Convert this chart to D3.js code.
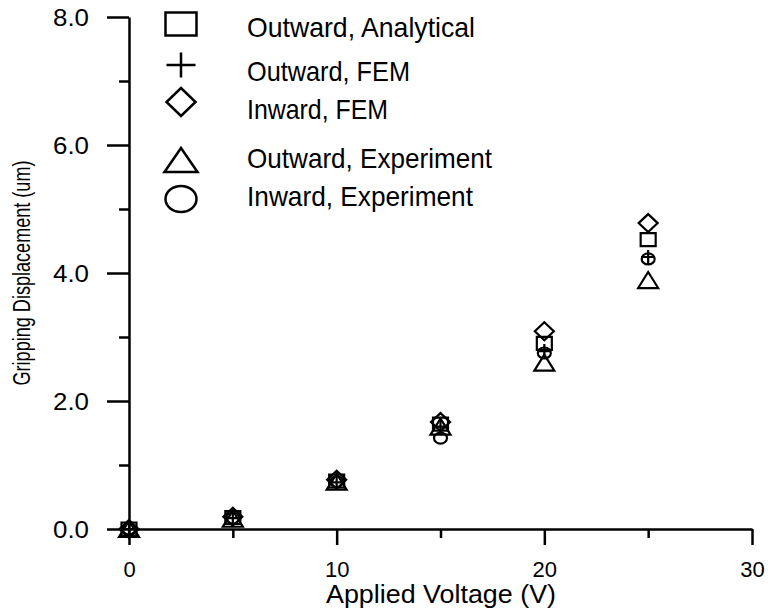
<!DOCTYPE html>
<html>
<head>
<meta charset="utf-8">
<script src="https://cdn.jsdelivr.net/npm/d3@7"></script>
<style>
  body { margin: 0; background: #fff; }
  svg { display: block; }
  .tick text { font-family: "Liberation Sans", Arial, sans-serif; }
</style>
</head>
<body>
<div id="chart"></div>
<script>
// data
const voltage = [0, 5, 10, 15, 20, 25]
const outwardAnalytical = [0, 0.18, 0.75, 1.64, 2.9, 4.52]
const outwardFEM = [0, 0.17, 0.73, 1.6, 2.78, 4.25]
const inwardFEM = [0, 0.19, 0.77, 1.67, 3.09, 4.78]
const outwardExperiment = [0, 0.16, 0.74, 1.6, 2.6, 3.89]
const inwardExperiment = [0, 0.17, 0.74, 1.42, 2.75, 4.22]

const seriesNames = ['Outward, Analytical', 'Outward, FEM', 'Inward, FEM', 'Outward, Experiment', 'Inward, Experiment']
const seriesShapes = ['square', 'plus', 'diamond', 'triangle', 'circle']
const seriesValues = [outwardAnalytical, outwardFEM, inwardFEM, outwardExperiment, inwardExperiment]

const xTicks = [0, 10, 20, 30]
const xMinor = [5, 15, 25]
const yTicks = [0, 2, 4, 6, 8]
const yMinor = [1, 3, 5, 7]

const width = 768, height = 610

// shape paths, w/h = full size
shapePath = (shape, w, h) => {
    const a = w / 2, b = h / 2
    if (shape === 'square') return `M${-a},${-b}H${a}V${b}H${-a}Z`
    if (shape === 'diamond') return `M0,${-b}L${a},0L0,${b}L${-a},0Z`
    if (shape === 'triangle') return `M0,${-b}L${a},${b}L${-a},${b}Z`
    if (shape === 'plus') return `M${-a},0H${a}M0,${-b}V${b}`
    // ellipse
    return `M${-a},0A${a},${b} 0 1,0 ${a},0A${a},${b} 0 1,0 ${-a},0Z`
}

const markerSize = {
    square: [15, 13], plus: [14, 14], diamond: [19, 18], triangle: [20, 16], circle: [13, 11]
}
const legendSize = {
    square: [31, 23], plus: [29, 25], diamond: [29, 28], triangle: [33, 24], circle: [31, 26]
}

const render = () => {
    const svg = d3.select('#chart').append('svg')
        .attr('width', width)
        .attr('height', height)

    const x = d3.scaleLinear().domain([0, 30]).range([129, 752])
    const y = d3.scaleLinear().domain([0, 8]).range([529, 17])

    // y axis
    const yAxis = svg.append('g')
        .attr('transform', `translate(${x(0)},0)`)
        .call(d3.axisLeft(y).tickValues(yTicks).tickSize(22).tickSizeOuter(0).tickFormat(d3.format('.1f')).tickPadding(18))
    yAxis.select('.domain').attr('stroke-width', 2.5)
    yAxis.selectAll('.tick line').attr('stroke-width', 2.5)
    yAxis.selectAll('.tick text').attr('font-size', 23).attr('dy', '0.36em')
        .attr('textLength', 36).attr('lengthAdjust', 'spacingAndGlyphs')

    const yAxisMinor = svg.append('g')
        .attr('transform', `translate(${x(0)},0)`)
        .call(d3.axisLeft(y).tickValues(yMinor).tickSize(10).tickFormat(''))
    yAxisMinor.select('.domain').remove()
    yAxisMinor.selectAll('.tick line').attr('stroke-width', 2.5)

    // x axis
    const xAxis = svg.append('g')
        .attr('transform', `translate(0,${y(0)})`)
        .call(d3.axisBottom(x).tickValues(xTicks).tickSize(16).tickSizeOuter(0).tickPadding(16))
    xAxis.select('.domain').attr('stroke-width', 2.5)
    xAxis.selectAll('.tick line').attr('stroke-width', 2.5)
    xAxis.selectAll('.tick text').attr('font-size', 22)

    const xAxisMinor = svg.append('g')
        .attr('transform', `translate(0,${y(0)})`)
        .call(d3.axisBottom(x).tickValues(xMinor).tickSize(9).tickFormat(''))
    xAxisMinor.select('.domain').remove()
    xAxisMinor.selectAll('.tick line').attr('stroke-width', 2.5)

    // axis titles
    svg.append('text')
        .attr('transform', `translate(30,${y(4)}) rotate(-90)`)
        .attr('text-anchor', 'middle')
        .attr('font-family', '"Liberation Sans", sans-serif')
        .attr('font-size', 23)
        .attr('textLength', 225)
        .attr('lengthAdjust', 'spacingAndGlyphs')
        .text('Gripping Displacement (um)')

    svg.append('text')
        .attr('x', 441)
        .attr('y', 603)
        .attr('text-anchor', 'middle')
        .attr('font-family', '"Liberation Sans", sans-serif')
        .attr('font-size', 26)
        .attr('textLength', 230)
        .attr('lengthAdjust', 'spacingAndGlyphs')
        .text('Applied Voltage (V)')

    // markers
    seriesValues.forEach((vals, s) => {
        const shape = seriesShapes[s]
        const [w, h] = markerSize[shape]
        svg.append('g')
            .selectAll('path')
            .data(vals.map((v, i) => [voltage[i], v]))
            .enter().append('path')
            .attr('transform', d => `translate(${x(d[0])},${y(d[1])})`)
            .attr('d', shapePath(shape, w, h))
            .attr('fill', 'none')
            .attr('stroke', '#000')
            .attr('stroke-width', 2.2)
    })

    // legend
    const legendY = [24, 65, 102, 160, 199]
    const legend = svg.append('g')
    seriesNames.forEach((name, s) => {
        const shape = seriesShapes[s]
        const [w, h] = legendSize[shape]
        legend.append('path')
            .attr('transform', `translate(181,${legendY[s]})`)
            .attr('d', shapePath(shape, w, h))
            .attr('fill', 'none')
            .attr('stroke', '#000')
            .attr('stroke-width', 2.5)
        legend.append('text')
            .attr('x', 247)
            .attr('y', [37, 81, 119, 168, 206][s])
            .attr('font-family', '"Liberation Sans", sans-serif')
            .attr('font-size', 28)
            .attr('textLength', [228, 163, 141, 245, 226][s])
            .attr('lengthAdjust', 'spacingAndGlyphs')
            .text(name)
    })
}

render()
</script>
</body>
</html>
